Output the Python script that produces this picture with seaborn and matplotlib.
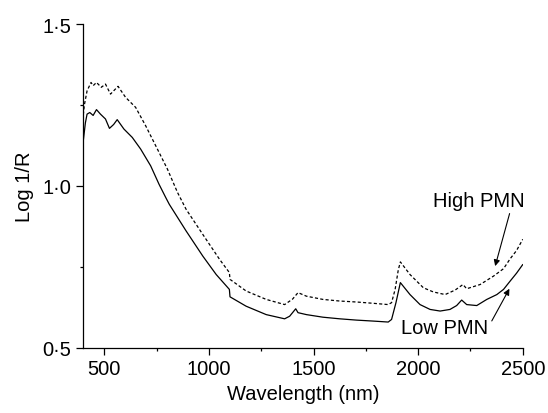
import numpy as np
import pandas as pd
import matplotlib
matplotlib.use('Agg')
import matplotlib.pyplot as plt
import seaborn as sns
from matplotlib.ticker import MultipleLocator, FuncFormatter

# 反射スペクトル（読み取り値）
wl_low = [400, 410, 418, 431, 447, 463, 482, 506, 525, 545, 562, 594, 634, 674, 722,
          762, 794, 811, 891, 971, 1035, 1098, 1101, 1178, 1274, 1362, 1386, 1415, 1426,
          1466, 1545, 1625, 1705, 1785, 1857, 1873, 1894, 1915, 1961, 2009, 2057, 2105,
          2152, 2184, 2208, 2232, 2280, 2328, 2376, 2408, 2440, 2470, 2500]
low_pmn = [1.140, 1.195, 1.222, 1.227, 1.218, 1.236, 1.222, 1.207, 1.178, 1.190, 1.205,
           1.176, 1.150, 1.114, 1.062, 1.005, 0.964, 0.943, 0.861, 0.783, 0.726, 0.680,
           0.657, 0.628, 0.602, 0.589, 0.597, 0.620, 0.608, 0.602, 0.594, 0.589, 0.585,
           0.582, 0.579, 0.587, 0.639, 0.701, 0.664, 0.633, 0.618, 0.613, 0.618, 0.630,
           0.647, 0.633, 0.630, 0.649, 0.664, 0.680, 0.706, 0.730, 0.757]

wl_high = [400, 405, 418, 437, 447, 463, 486, 506, 530, 566, 602, 650, 698, 754, 802,
           850, 891, 971, 1051, 1098, 1101, 1178, 1274, 1362, 1400, 1426, 1466, 1545,
           1625, 1705, 1785, 1857, 1873, 1890, 1905, 1915, 1961, 2025, 2073, 2129, 2177,
           2214, 2232, 2296, 2360, 2408, 2440, 2470, 2500]
high_pmn = [1.220, 1.250, 1.294, 1.320, 1.310, 1.320, 1.305, 1.315, 1.284, 1.308, 1.274,
            1.243, 1.186, 1.114, 1.052, 0.980, 0.928, 0.850, 0.773, 0.732, 0.711, 0.675,
            0.649, 0.633, 0.650, 0.670, 0.659, 0.649, 0.644, 0.641, 0.637, 0.633, 0.639,
            0.680, 0.740, 0.765, 0.726, 0.685, 0.672, 0.664, 0.678, 0.695, 0.682, 0.695,
            0.721, 0.744, 0.775, 0.800, 0.835]

low_df = pd.DataFrame({'wavelength': wl_low, 'log_r': low_pmn})
high_df = pd.DataFrame({'wavelength': wl_high, 'log_r': high_pmn})

sns.set_style('ticks')
plt.rcParams['font.family'] = ['Liberation Sans', 'DejaVu Sans']
plt.rcParams['font.size'] = 14.5
plt.rcParams['text.color'] = 'black'
plt.rcParams['axes.labelcolor'] = 'black'
plt.rcParams['xtick.color'] = 'black'
plt.rcParams['ytick.color'] = 'black'

fig = plt.figure(figsize=(5.48, 4.14), dpi=100)
ax = fig.add_axes([0.152, 0.158, 0.802, 0.781])

sns.lineplot(data=high_df, x='wavelength', y='log_r', color='black', lw=0.9,
             linestyle=(0, (2.5, 1.8)), ax=ax)
sns.lineplot(data=low_df, x='wavelength', y='log_r', color='black', lw=0.9, ax=ax)

ax.set_xlim(400, 2500)
ax.set_ylim(0.5, 1.5)
ax.xaxis.set_major_locator(MultipleLocator(500))
ax.xaxis.set_minor_locator(MultipleLocator(250))
ax.yaxis.set_major_locator(MultipleLocator(0.5))
ax.yaxis.set_minor_locator(MultipleLocator(0.25))
ax.yaxis.set_major_formatter(FuncFormatter(lambda v, p: f'{v:.1f}'.replace('.', '\u00b7')))
ax.tick_params(which='major', length=5, width=0.9, labelsize=14.5, colors='black')
ax.tick_params(which='minor', length=2.5, width=0.9, colors='black')
for s in ['left', 'bottom']:
    ax.spines[s].set_linewidth(0.9)
    ax.spines[s].set_color('black')
sns.despine(ax=ax)

ax.set_xlabel('Wavelength (nm)', fontsize=14.5, labelpad=4, color='black')
ax.set_ylabel('Log 1/R', fontsize=14.5, labelpad=6, color='black')

arrow = dict(arrowstyle='-|>', color='black', lw=0.8, mutation_scale=9, shrinkA=0, shrinkB=0)
ax.annotate('High PMN', xy=(2368, 0.752), xytext=(2288, 0.954), ha='center', va='center',
            fontsize=14.5, color='black', arrowprops=dict(arrow, relpos=(0.85, 0.0)))
ax.annotate('Low PMN', xy=(2436, 0.682), xytext=(2128, 0.561), ha='center', va='center',
            fontsize=14.5, color='black', arrowprops=dict(arrow, relpos=(1.0, 0.55)))

plt.savefig('out.png', dpi=100)
plt.close()
